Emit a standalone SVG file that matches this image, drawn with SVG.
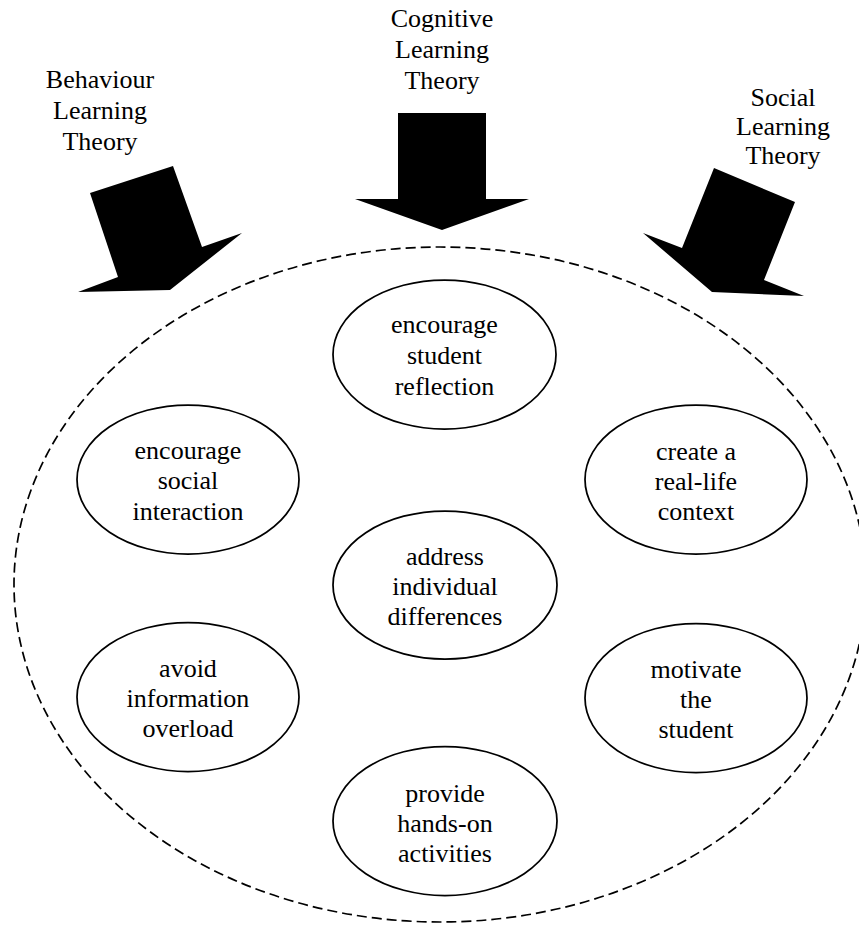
<svg xmlns="http://www.w3.org/2000/svg" width="859" height="926" viewBox="0 0 859 926">
<style>
text{font-family:"Liberation Serif","Times New Roman",serif;font-size:26px;fill:#000;text-anchor:middle}
.node ellipse{fill:#fff;stroke:#000;stroke-width:1.75}
.arrow{fill:#000;stroke:none}
.boundary{fill:none;stroke:#000;stroke-width:1.7;stroke-dasharray:10 5}
</style>
<rect width="859" height="926" fill="#fff"/>
<ellipse class="boundary" cx="440" cy="584.5" rx="426" ry="337.5"/>
<g id="connectors">
<polygon class="arrow" points="90,193 173,166 202,247 242,233 170,290 78,292 118,277"/>
<polygon class="arrow" points="398,113 486,113 486,199 529,199 442,230 355,199 398,199"/>
<polygon class="arrow" points="714,168 795,202 764,280 804,296 712,292 643,233 682,248"/>
</g>
<g id="behaviour"><text x="100" y="88">Behaviour</text><text x="100" y="119">Learning</text><text x="100" y="150">Theory</text></g>
<g id="cognitive"><text x="442" y="27">Cognitive</text><text x="442" y="58">Learning</text><text x="442" y="89">Theory</text></g>
<g id="social"><text x="783" y="106">Social</text><text x="783" y="135">Learning</text><text x="783" y="164">Theory</text></g>
<g id="reflection" class="node"><ellipse cx="444.5" cy="354.5" rx="111.5" ry="74.5"/><text x="444.5" y="333">encourage</text><text x="444.5" y="364">student</text><text x="444.5" y="395">reflection</text></g>
<g id="interaction" class="node"><ellipse cx="188" cy="479.5" rx="111" ry="74.5"/><text x="188" y="459">encourage</text><text x="188" y="489">social</text><text x="188" y="520">interaction</text></g>
<g id="context" class="node"><ellipse cx="696" cy="479.5" rx="111" ry="74.5"/><text x="696" y="460">create a</text><text x="696" y="490">real-life</text><text x="696" y="520">context</text></g>
<g id="differences" class="node"><ellipse cx="445" cy="585" rx="112" ry="74"/><text x="445" y="565">address</text><text x="445" y="595">individual</text><text x="445" y="625">differences</text></g>
<g id="overload" class="node"><ellipse cx="188" cy="697" rx="111" ry="74.5"/><text x="188" y="677">avoid</text><text x="188" y="707">information</text><text x="188" y="737">overload</text></g>
<g id="motivate" class="node"><ellipse cx="696" cy="698" rx="111" ry="74.5"/><text x="696" y="678">motivate</text><text x="696" y="708">the</text><text x="696" y="738">student</text></g>
<g id="handson" class="node"><ellipse cx="445" cy="821" rx="112" ry="74.5"/><text x="445" y="802">provide</text><text x="445" y="832">hands-on</text><text x="445" y="862">activities</text></g>
</svg>
